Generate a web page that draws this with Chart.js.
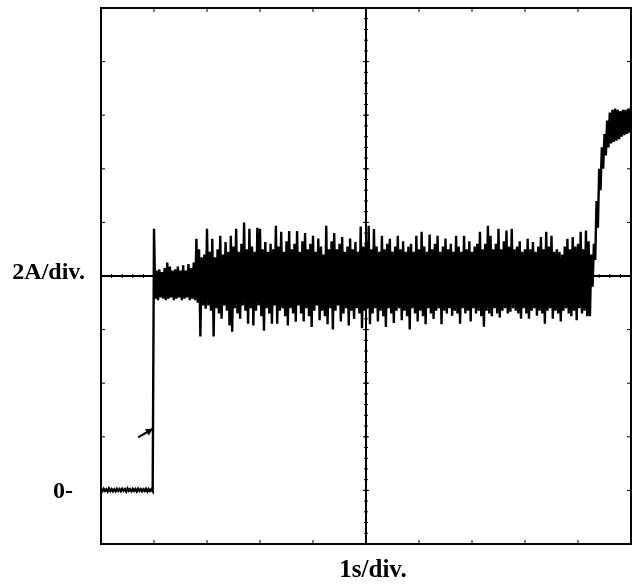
<!DOCTYPE html>
<html>
<head>
<meta charset="utf-8">
<script src="https://cdn.jsdelivr.net/npm/chart.js@4"></script>
<style>
  html, body { margin: 0; padding: 0; background: #fff; }
  #wrap { width: 632px; height: 587px; }
</style>
</head>
<body>
<div id="wrap"><canvas id="scope" width="632" height="587"></canvas></div>
<script>
// trace is sampled every 25 ms, 10 s across the screen
var sampleStep = 0.025;

// current (A), in time order
var baseline = [
  0.05, -0.03, 0.06, -0.02, 0.04, -0.04, 0.07, -0.02, 0.05, -0.03,
  0.04, -0.03, 0.06, -0.02, 0.05, -0.03, 0.06, -0.01, 0.05, -0.04,
  0.07, -0.02, 0.04, -0.03, 0.06, -0.02, 0.05, -0.04, 0.06, -0.02,
  0.05, -0.03, 0.04, -0.02, 0.06, -0.04, 0.05, -0.02, 0.04, -0.03
];
var stepAndSettle = [
  9.76, 7.15, 8.2, 7.1, 8.25, 7.2, 8.15, 7.15, 8.3, 7.1,
  8.5, 7.15, 8.35, 7.2, 8.2, 7.1, 8.25, 7.15, 8.35, 7.2,
  8.2, 7.1, 8.4, 7.15, 8.2, 7.2, 8.45, 7.1, 8.3, 7.15
];
var noisyRun = [
  8.5, 7.1, 9.39, 7.0, 9.0, 5.74, 8.7, 6.9, 8.8, 6.78, 9.76, 6.9, 8.9, 6.7, 9.39, 5.74, 8.7, 6.8, 9.0, 6.6,
  9.5, 6.41, 8.8, 6.9, 9.27, 6.7, 8.9, 6.15, 9.5, 5.92, 9.1, 6.8, 9.76, 6.6, 8.9, 6.41, 9.2, 6.9, 10.0, 6.7,
  9.0, 6.22, 9.76, 6.8, 9.1, 6.15, 8.9, 6.7, 9.8, 6.9, 9.76, 6.5, 9.0, 5.96, 9.27, 6.8, 8.9, 6.6, 9.2, 6.22,
  9.0, 6.9, 9.87, 6.22, 9.1, 6.7, 9.65, 6.8, 8.9, 6.5, 9.3, 6.15, 9.68, 6.8, 9.0, 6.6, 9.2, 6.29, 9.68, 6.9,
  8.9, 6.6, 9.3, 6.3, 9.6, 6.8, 9.0, 6.5, 9.2, 6.1, 9.5, 6.7, 8.9, 6.9, 9.4, 6.35, 9.1, 6.7, 8.8, 6.5,
  9.87, 6.2, 9.0, 6.8, 9.3, 6.0, 9.6, 6.7, 9.0, 6.9, 9.2, 6.3, 9.45, 6.6, 8.9, 6.8, 9.1, 6.15, 9.4, 6.7,
  9.0, 6.4, 9.27, 6.8, 8.9, 6.6, 9.85, 6.05, 9.1, 6.7, 9.3, 6.8, 9.87, 6.2, 9.0, 6.6, 9.75, 6.8, 9.1, 6.3,
  8.9, 6.7, 9.5, 6.5, 9.0, 6.1, 9.2, 6.8, 9.39, 6.6, 8.9, 6.25, 9.1, 6.7, 9.5, 6.8, 9.0, 6.35, 9.3, 6.7,
  8.9, 6.5, 9.1, 6.0, 9.2, 6.8, 8.9, 6.6, 9.5, 6.3, 9.0, 6.7, 9.65, 6.5, 9.1, 6.2, 8.9, 6.8, 9.55, 6.6,
  9.0, 6.4, 9.2, 6.7, 9.5, 6.8, 8.9, 6.2, 9.1, 6.7, 9.4, 6.6, 9.0, 6.8, 9.2, 6.52, 8.9, 6.7, 9.5, 6.6,
  9.1, 6.22, 8.9, 6.8, 9.5, 6.6, 9.0, 6.7, 9.3, 6.3, 8.9, 6.8, 9.1, 6.6, 9.2, 6.7, 9.65, 6.5, 9.0, 6.11,
  9.2, 6.7, 9.87, 6.6, 9.5, 6.5, 9.0, 6.8, 9.2, 6.6, 9.76, 6.45, 9.0, 6.7, 9.3, 6.8, 9.7, 6.6, 9.1, 6.67,
  9.76, 6.8, 9.0, 6.7, 9.1, 6.6, 9.3, 6.41, 8.9, 6.8, 9.0, 6.6, 9.39, 6.41, 9.0, 6.7, 9.27, 6.8, 8.9, 6.52,
  9.1, 6.7, 9.45, 6.6, 9.0, 6.22, 9.65, 6.7, 9.1, 6.8, 9.5, 6.41, 8.9, 6.7, 9.0, 6.6, 8.9, 6.3, 8.8, 6.7,
  9.1, 6.8, 9.39, 6.6, 9.0, 6.5, 9.45, 6.7, 9.1, 6.35, 9.2, 6.8, 9.65, 6.6, 9.0, 6.7, 9.7, 6.5
];
var riseAndPlateau = [
  9.3, 6.5, 8.8, 7.6, 9.2, 8.6, 10.8, 9.8, 12.0, 11.2,
  12.8, 12.0, 13.3, 12.5, 13.8, 12.8, 14.1, 12.95, 14.2, 13.0,
  14.25, 13.05, 14.2, 13.1, 14.15, 13.2, 14.2, 13.25, 14.2, 13.3,
  14.25, 13.35, 14.3
];

// graticule: 1 s and 2 A per division
var timeDivs = [0, 1, 2, 3, 4, 5, 6, 7, 8, 9, 10];
var ampDivs = [-2, 0, 2, 4, 6, 8, 10, 12, 14, 16, 18];
var ampLabels = { "8": "2A/div.", "0": "0-" };
var timeLabel = "1s/div.";

// little arrow pointing at the step
var arrowFrom = [0.7, 1.98];
var arrowTo = [0.98, 2.3];

var current = baseline.concat(stepAndSettle, noisyRun, riseAndPlateau);
var points = current.map(function (a, i) {
  return { x: i * sampleStep, y: a };
});

var font = 'bold 24px "Liberation Serif", "DejaVu Serif", serif';

var graticule = {
  id: "graticule",
  beforeDatasetsDraw: function (chart) {
    var c = chart.ctx;
    var xs = chart.scales.x;
    var ys = chart.scales.y;
    var a = chart.chartArea;
    var cx = xs.getPixelForValue(5);
    var cy = ys.getPixelForValue(8);
    c.save();
    c.strokeStyle = "#000";
    c.lineWidth = 2;
    c.strokeRect(a.left, a.top, a.right - a.left, a.bottom - a.top);
    c.beginPath();
    c.moveTo(cx, a.top);
    c.lineTo(cx, a.bottom);
    c.moveTo(a.left, cy);
    c.lineTo(a.right, cy);
    c.stroke();

    c.lineWidth = 1.5;
    c.beginPath();
    timeDivs.forEach(function (t) {
      var px = xs.getPixelForValue(t);
      c.moveTo(px, a.top);
      c.lineTo(px, a.top + 4);
      c.moveTo(px, a.bottom);
      c.lineTo(px, a.bottom - 4);
      c.moveTo(px, cy - 3);
      c.lineTo(px, cy + 3);
    });
    ampDivs.forEach(function (v) {
      var py = ys.getPixelForValue(v);
      c.moveTo(a.left, py);
      c.lineTo(a.left + 4, py);
      c.moveTo(a.right, py);
      c.lineTo(a.right - 4, py);
      c.moveTo(cx - 3, py);
      c.lineTo(cx + 3, py);
    });
    // fifths of a division along the centre lines
    c.lineWidth = 1;
    for (var k = 0; k <= 50; k++) {
      var px = xs.getPixelForValue(k / 5);
      c.moveTo(px, cy - 2);
      c.lineTo(px, cy + 2);
      var py = ys.getPixelForValue(-2 + k * 0.4);
      c.moveTo(cx - 2, py);
      c.lineTo(cx + 2, py);
    }
    c.stroke();
    c.restore();
  },
  afterDatasetsDraw: function (chart) {
    var c = chart.ctx;
    var xs = chart.scales.x;
    var ys = chart.scales.y;
    var x0 = xs.getPixelForValue(arrowFrom[0]);
    var y0 = ys.getPixelForValue(arrowFrom[1]);
    var x1 = xs.getPixelForValue(arrowTo[0]);
    var y1 = ys.getPixelForValue(arrowTo[1]);
    var ang = Math.atan2(y1 - y0, x1 - x0);
    c.save();
    c.strokeStyle = "#000";
    c.fillStyle = "#000";
    c.lineWidth = 2.2;
    c.beginPath();
    c.moveTo(x0, y0);
    c.lineTo(x1, y1);
    c.stroke();
    c.beginPath();
    c.moveTo(x1, y1);
    c.lineTo(x1 - 8 * Math.cos(ang - 0.5), y1 - 8 * Math.sin(ang - 0.5));
    c.lineTo(x1 - 8 * Math.cos(ang + 0.5), y1 - 8 * Math.sin(ang + 0.5));
    c.closePath();
    c.fill();
    c.restore();
  },
  afterDraw: function (chart) {
    var c = chart.ctx;
    var xs = chart.scales.x;
    var ys = chart.scales.y;
    var a = chart.chartArea;
    c.save();
    c.fillStyle = "#000";
    c.font = font;
    c.textAlign = "right";
    c.textBaseline = "alphabetic";
    c.fillText(ampLabels["8"], a.left - 16, ys.getPixelForValue(8) + 3);
    c.fillText(ampLabels["0"], a.left - 28, ys.getPixelForValue(0) + 8);
    c.textAlign = "center";
    c.font = 'bold 25px "Liberation Serif", "DejaVu Serif", serif';
    c.fillText(timeLabel, xs.getPixelForValue(5) + 7, a.bottom + 33);
    c.restore();
  }
};

var ctx = document.getElementById("scope");
var scopeChart = new Chart(ctx, {
  type: "line",
  data: {
    datasets: [
      {
        label: "Current",
        data: points,
        borderColor: "#000",
        borderWidth: 2.4,
        pointRadius: 0,
        tension: 0,
        fill: false,
      },
    ],
  },
  options: {
    responsive: false,
    animation: false,
    layout: {
      padding: { left: 101, right: 1, top: 8, bottom: 43 },
    },
    scales: {
      x: { type: "linear", min: 0, max: 10, display: false },
      y: { type: "linear", min: -2, max: 18, display: false },
    },
    plugins: {
      legend: { display: false },
      tooltip: { enabled: false },
    },
  },
  plugins: [graticule],
});
</script>
</body>
</html>
